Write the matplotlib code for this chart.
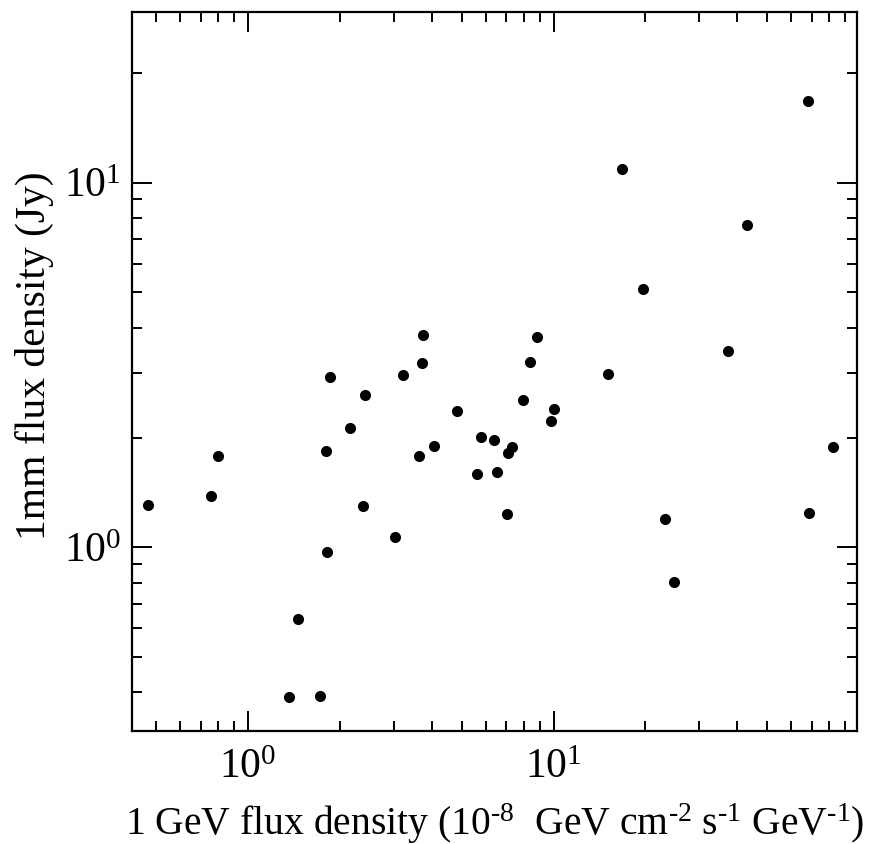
import math
import matplotlib
matplotlib.use('Agg')
import matplotlib.pyplot as plt
from matplotlib.ticker import LogLocator, FuncFormatter, NullFormatter

plt.rcParams['font.family'] = ['Liberation Serif', 'DejaVu Serif']
plt.rcParams['mathtext.fontset'] = 'custom'
plt.rcParams['mathtext.rm'] = 'Liberation Serif'
plt.rcParams['mathtext.it'] = 'Liberation Serif:italic'

# 1 GeV flux density (1e-8 GeV cm^-2 s^-1 GeV^-1)
gev_flux = [0.47, 0.754, 0.797, 1.36, 1.723, 1.46, 1.803, 1.813, 1.858, 2.158,
            2.38, 2.422, 3.213, 3.718, 3.727, 3.627, 4.061, 3.039, 4.833, 5.62,
            5.807, 6.408, 6.555, 7.086, 7.303, 7.053, 7.96, 8.365, 8.85, 10.0,
            9.80, 15.09, 16.82, 19.56, 23.16, 24.74, 37.37, 42.95, 68.1, 68.6,
            82.0]
# 1mm flux density (Jy)
mm_flux = [1.31, 1.385, 1.78, 0.388, 0.391, 0.635, 1.834, 0.971, 2.926, 2.121,
           1.30, 2.617, 2.974, 3.197, 3.822, 1.777, 1.899, 1.069, 2.36, 1.592,
           2.003, 1.973, 1.612, 1.817, 1.884, 1.234, 2.54, 3.217, 3.774, 2.399,
           2.225, 2.993, 10.88, 5.11, 1.193, 0.805, 3.448, 7.64, 16.75, 1.242,
           1.888]

fig = plt.figure(figsize=(8.89, 8.44), dpi=100)
ax = fig.add_axes([0.1488, 0.1342, 0.964 - 0.1488, 0.9858 - 0.1342])

ax.scatter(gev_flux, mm_flux, s=64, color='black', linewidths=0, zorder=3)

ax.set_xscale('log')
ax.set_yscale('log')
ax.set_xlim(0.418, 98.5)
ax.set_ylim(0.314, 29.4)

fmt = FuncFormatter(lambda v, p: r'$\mathregular{10^{%d}}$' % round(math.log10(v)))
for axis in (ax.xaxis, ax.yaxis):
    axis.set_major_locator(LogLocator(base=10, numticks=10))
    axis.set_minor_locator(LogLocator(base=10, subs=range(2, 10), numticks=20))
    axis.set_major_formatter(fmt)
    axis.set_minor_formatter(NullFormatter())

ax.tick_params(which='both', direction='in', top=True, right=True, labelsize=30, width=1.4)
ax.tick_params(which='major', length=14.5, pad=8)
ax.tick_params(which='minor', length=7.2)
ax.tick_params(axis='x', which='major', pad=13)
for sp in ax.spines.values():
    sp.set_linewidth(1.6)

ax.set_xlabel(r'1 GeV flux density (10$^{\mathregular{\text{-}8}}$  GeV cm$^{\mathregular{\text{-}2}}$ '
              r's$^{\mathregular{\text{-}1}}$ GeV$^{\mathregular{\text{-}1}})$',
              fontsize=28.5, labelpad=10)
ax.set_ylabel('1mm flux density (Jy)', fontsize=30)
ax.yaxis.set_label_coords(-0.108, 0.522)

fig.savefig('out.png', dpi=100)
